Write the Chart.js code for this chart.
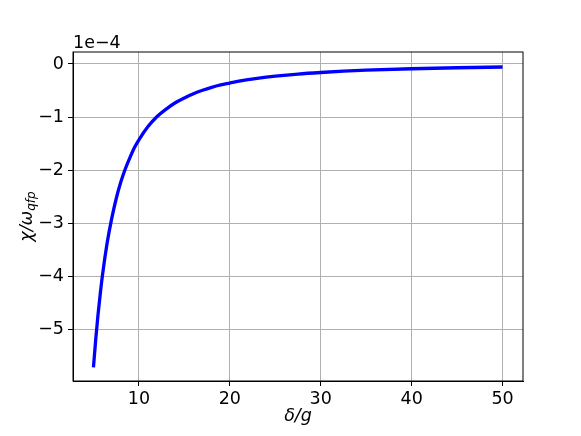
<!DOCTYPE html>
<html>
<head>
<meta charset="utf-8">
<script src="https://cdn.jsdelivr.net/npm/chart.js@4/dist/chart.umd.min.js"></script>
<style>
  html, body { margin: 0; padding: 0; background: #fff; }
  #wrap { width: 581px; height: 436px; position: relative; }
</style>
</head>
<body>
<div id="wrap"><canvas id="chart"></canvas></div>
<script>
/* ---------- data (y in units of 1e-4) ---------- */
const deltaOverG = [5, 5.25, 5.5, 5.75, 6, 6.5, 7, 7.5, 8, 8.5, 9, 9.5, 10, 11, 12, 13, 14, 15, 16, 17, 18, 19, 20, 21, 22, 23, 24, 25, 27.5, 30, 32.5, 35, 40, 45, 50];
const chiOverOmega = [-5.72, -5.19, -4.73, -4.33, -3.97, -3.38, -2.92, -2.54, -2.23, -1.98, -1.77, -1.58, -1.43, -1.18, -0.99, -0.85, -0.73, -0.64, -0.56, -0.495, -0.44, -0.395, -0.36, -0.325, -0.295, -0.27, -0.248, -0.229, -0.19, -0.16, -0.135, -0.117, -0.09, -0.071, -0.057];
const xTicks = [10, 20, 30, 40, 50];
const yTicks = [-5, -4, -3, -2, -1, 0];
const offsetText = '1e\u22124';

const FONT = 'DejaVu Sans';
const FS = 17.5;

/* ---------- frame + labels ---------- */
const decor = {
  id: 'decor',
  afterDraw(chart) {
    const { ctx, chartArea: a } = chart;
    ctx.save();
    ctx.strokeStyle = '#000';
    ctx.lineWidth = 1;
    ctx.strokeRect(a.left, a.top, a.right - a.left, a.bottom - a.top);

    ctx.fillStyle = '#000';
    ctx.font = `${FS}px "${FONT}"`;
    ctx.textAlign = 'left';
    ctx.textBaseline = 'alphabetic';
    ctx.fillText(offsetText, a.left, 48);

    // x title
    ctx.font = `italic ${FS}px "${FONT}"`;
    ctx.textAlign = 'center';
    ctx.fillText('\u03b4/g', (a.left + a.right) / 2, 421);

    // y title with subscript
    ctx.translate(32, (a.top + a.bottom) / 2);
    ctx.rotate(-Math.PI / 2);
    const main = '\u03c7/\u03c9', sub = 'qfp';
    ctx.font = `italic ${FS}px "${FONT}"`;
    const w1 = ctx.measureText(main).width;
    ctx.font = `italic 12px "${FONT}"`;
    const w2 = ctx.measureText(sub).width;
    const x0 = -(w1 + w2) / 2;
    ctx.textAlign = 'left';
    ctx.font = `italic ${FS}px "${FONT}"`;
    ctx.fillText(main, x0, 0);
    ctx.font = `italic 12px "${FONT}"`;
    ctx.fillText(sub, x0 + w1, 3);
    ctx.restore();
  }
};

const fmt = v => String(v).replace('-', '\u2212');

new Chart(document.getElementById('chart'), {
  type: 'line',
  data: {
    datasets: [{
      data: deltaOverG.map((x, i) => ({ x, y: chiOverOmega[i] })),
      borderColor: '#0000ff',
      borderWidth: 3.3,
      pointRadius: 0,
      fill: false,
      cubicInterpolationMode: 'monotone'
    }]
  },
  options: {
    responsive: true,
    maintainAspectRatio: false,
    animation: false,
    layout: { padding: { left: 0, top: 52, right: 58, bottom: 0 } },
    plugins: { legend: { display: false }, tooltip: { enabled: false } },
    scales: {
      x: {
        type: 'linear',
        min: 2.75, max: 52.25,
        afterBuildTicks: s => { s.ticks = xTicks.map(v => ({ value: v })); },
        afterFit: s => { s.height = 55; },
        grid: { color: '#b0b0b0', lineWidth: 1, tickColor: '#000', tickLength: 5 },
        border: { display: true, color: '#000', width: 1 },
        ticks: { color: '#000', font: { family: FONT, size: FS }, padding: 3, maxRotation: 0, callback: fmt }
      },
      y: {
        type: 'linear',
        min: -5.975, max: 0.226,
        afterBuildTicks: s => { s.ticks = yTicks.map(v => ({ value: v })); },
        afterFit: s => { s.width = 73; },
        grid: { color: '#b0b0b0', lineWidth: 1, tickColor: '#000', tickLength: 5 },
        border: { display: true, color: '#000', width: 1 },
        ticks: { color: '#000', font: { family: FONT, size: FS }, padding: 4, callback: fmt }
      }
    }
  },
  plugins: [decor]
});
</script>
</body>
</html>
